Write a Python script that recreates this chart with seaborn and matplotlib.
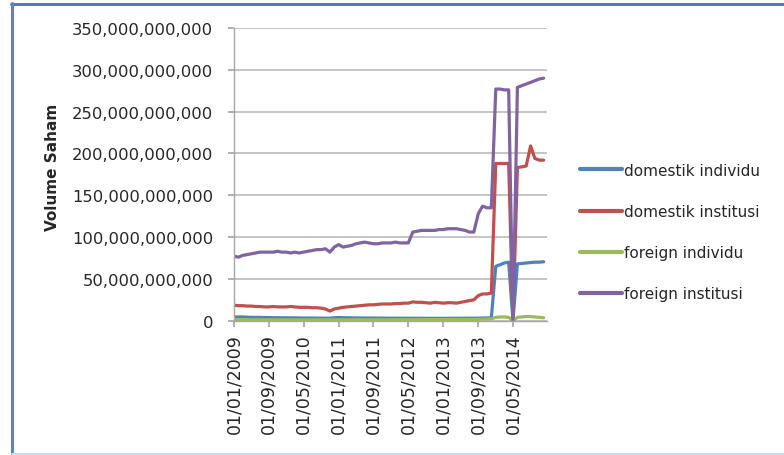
import numpy as np
import pandas as pd
import matplotlib
matplotlib.use("Agg")
import matplotlib.pyplot as plt
from matplotlib.lines import Line2D
from matplotlib.ticker import FuncFormatter
import seaborn as sns

# Monthly share volume by investor type, in billions of shares (Jan 2009 - Dec 2014)
months = pd.date_range("2009-01-01", periods=72, freq="MS")

domestik_individu = [
    4.5, 4.5, 4.5, 4.2, 4.0, 4.0, 4.0, 3.8, 3.8, 3.6, 3.5, 3.5,
    3.5, 3.4, 3.4, 3.3, 3.2, 3.2, 3.2, 3.1, 3.1, 3.0, 3.0, 3.5,
    3.8, 3.6, 3.5, 3.4, 3.3, 3.3, 3.2, 3.2, 3.2, 3.1, 3.1, 3.0,
    3.0, 3.0, 3.0, 3.0, 2.9, 2.9, 2.9, 2.9, 2.8, 2.8, 2.8, 2.8,
    2.8, 2.8, 2.9, 2.9, 2.9, 3.0, 3.0, 3.0, 3.1, 3.2, 3.3, 3.5,
    65.0, 67.0, 69.0, 70.0, 0.0, 68.0, 68.5, 69.0, 69.5, 70.0, 70.0, 70.5,
]
domestik_institusi = [
    18.5, 18.0, 18.0, 17.5, 17.5, 17.0, 17.0, 16.5, 16.5, 17.0, 16.5, 16.5,
    16.5, 17.0, 16.5, 16.0, 16.0, 16.0, 15.5, 15.5, 15.0, 14.0, 11.5, 14.0,
    15.0, 16.0, 16.5, 17.0, 17.5, 18.0, 18.5, 19.0, 19.0, 19.5, 20.0, 20.0,
    20.0, 20.5, 20.5, 21.0, 21.0, 22.5, 22.0, 22.0, 21.5, 21.0, 22.0, 21.5,
    21.0, 21.5, 21.5, 21.0, 22.0, 23.0, 24.0, 25.0, 30.0, 32.0, 32.0, 33.0,
    188.0, 188.0, 188.0, 188.0, 0.0, 183.0, 184.0, 185.0, 209.0, 194.0, 192.0, 192.0,
]
foreign_individu = [
    1.2, 1.2, 1.2, 1.2, 1.1, 1.1, 1.1, 1.1, 1.1, 1.1, 1.1, 1.1,
    1.1, 1.1, 1.0, 1.0, 1.0, 1.0, 1.0, 1.0, 1.0, 1.0, 1.0, 1.0,
    1.1, 1.1, 1.1, 1.1, 1.1, 1.1, 1.1, 1.1, 1.1, 1.1, 1.1, 1.1,
    1.2, 1.2, 1.2, 1.2, 1.2, 1.2, 1.3, 1.3, 1.3, 1.3, 1.3, 1.3,
    1.4, 1.4, 1.4, 1.4, 1.5, 1.5, 1.5, 1.5, 1.6, 1.8, 2.0, 2.2,
    4.0, 4.5, 4.5, 4.0, 0.0, 4.0, 4.5, 5.0, 5.0, 4.5, 4.0, 3.5,
]
foreign_institusi = [
    77.0, 76.0, 78.0, 79.0, 80.0, 81.0, 82.0, 82.0, 82.0, 82.0, 83.0, 82.0,
    82.0, 81.0, 82.0, 81.0, 82.0, 83.0, 84.0, 85.0, 85.0, 86.0, 82.0, 88.0,
    91.0, 88.0, 89.0, 90.0, 92.0, 93.0, 94.0, 93.0, 92.0, 92.0, 93.0, 93.0,
    93.0, 94.0, 93.0, 93.0, 93.0, 106.0, 107.0, 108.0, 108.0, 108.0, 108.0, 109.0,
    109.0, 110.0, 110.0, 110.0, 109.0, 108.0, 106.0, 106.0, 128.0, 137.0, 135.0, 135.0,
    277.0, 277.0, 276.0, 276.0, 0.0, 279.0, 281.0, 283.0, 285.0, 287.0, 289.0, 290.0,
]

series_names = ["domestik individu", "domestik institusi",
                "foreign individu", "foreign institusi"]
series_values = [domestik_individu, domestik_institusi,
                 foreign_individu, foreign_institusi]
series_colors = ["#4F81BD", "#C0504D", "#9BBB59", "#8064A2"]

tick_dates = pd.date_range("2009-01-01", "2014-05-01", freq="8MS")
tick_labels = [d.strftime("%d/%m/%Y") for d in tick_dates]
y_ticks = np.arange(0, 350_000_000_001, 50_000_000_000)

df = pd.concat(
    [pd.DataFrame({"Tanggal": months,
                   "Volume": np.asarray(v) * 1e9,
                   "Investor": name})
     for name, v in zip(series_names, series_values)],
    ignore_index=True,
)

sns.set_theme(style="white")
plt.rcParams["font.family"] = ["DejaVu Sans"]

fig = plt.figure(figsize=(7.84, 4.56), dpi=100)
ax = fig.add_axes([0.2985, 0.2945, 0.3995, 0.6419])

sns.lineplot(data=df, x="Tanggal", y="Volume", hue="Investor",
             hue_order=series_names, palette=series_colors,
             linewidth=2.3, ax=ax, legend=False)

# Axes styling
ax.set_xlim(months[0], pd.Timestamp("2014-12-26"))
ax.set_ylim(0, 350e9)
ax.set_yticks(y_ticks)
ax.yaxis.set_major_formatter(FuncFormatter(lambda v, p: f"{v:,.0f}"))
ax.set_xticks(tick_dates)
ax.set_xticklabels(tick_labels, rotation=90)
ax.grid(axis="y", color="#BFBFBF", linewidth=1.3)
ax.grid(axis="x", visible=False)
for side in ["top", "right"]:
    ax.spines[side].set_visible(False)
for side in ["left", "bottom"]:
    ax.spines[side].set_color("#A6A6A6")
    ax.spines[side].set_linewidth(1.0)
ax.tick_params(axis="y", which="major", left=True, length=4, color="#A6A6A6",
               pad=11, labelsize=11.8, labelcolor="#262626")
ax.tick_params(axis="x", which="major", bottom=True, length=4, color="#A6A6A6",
               pad=5, labelsize=12.5, labelcolor="#262626")
ax.set_xlabel("")
ax.set_ylabel("Volume Saham", fontsize=11, fontweight="bold", color="#262626")
ax.yaxis.set_label_coords(-0.555, 0.528)

handles = [Line2D([0], [0], color=c, linewidth=3) for c in series_colors]
leg = fig.legend(handles, series_names, loc="center left",
                 bbox_to_anchor=(0.722, 0.489), frameon=False,
                 fontsize=11, handlelength=2.75, handletextpad=0.15,
                 labelspacing=1.72)
for t in leg.get_texts():
    t.set_color("#262626")

# Window-style frame around the chart
W, H = 784, 456
def fx(px):
    return px / W
def fy(py):
    return 1 - py / H
fig.add_artist(Line2D([fx(11), fx(784)], [fy(4.5), fy(4.5)],
                      transform=fig.transFigure, color="#4F7DB5", linewidth=2.2))
fig.add_artist(Line2D([fx(12), fx(12)], [fy(4), fy(456)],
                      transform=fig.transFigure, color="#5B86BD", linewidth=2.2))
fig.add_artist(Line2D([fx(12), fx(784)], [fy(454.5), fy(454.5)],
                      transform=fig.transFigure, color="#C9DDF2", linewidth=1.5))

fig.savefig("out.png", dpi=100)
